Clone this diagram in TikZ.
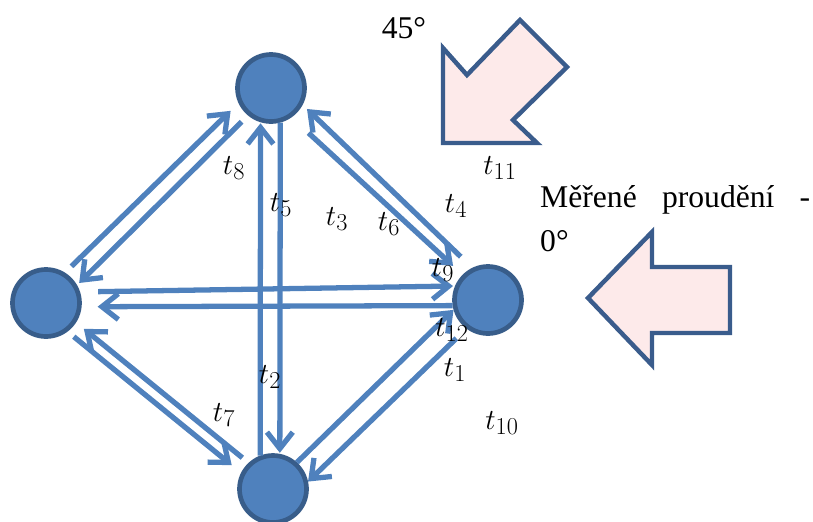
\documentclass[tikz,border=0pt]{standalone}
\usepackage{fontspec}
\setmainfont{Liberation Serif}
\usetikzlibrary{arrows.meta}
\newlength{\px}
\setlength{\px}{0.03cm}
\definecolor{nodeblue}{RGB}{79, 129, 189}
\definecolor{nodeedge}{RGB}{56, 93, 138}
\definecolor{flowfill}{RGB}{253, 234, 234}
\definecolor{flowedge}{RGB}{58, 92, 140}

\begin{document}
\begin{tikzpicture}[x=0.03cm, y=-0.03cm,
    station/.style={circle, draw=nodeedge, fill=nodeblue, line width=4pt,
                    minimum size=2.01cm, inner sep=0pt},
    link/.style={draw=nodeblue, line width=4.5pt,
                 -{Straight Barb[length=14pt, width=22pt]}},
    tlabel/.style={font=\fontsize{28}{30}\selectfont},
    bigarrow/.style={draw=flowedge, fill=flowfill, line width=3.8pt,
                     line join=miter}]
  \clip (0,0) rectangle (813,521);

  % stations
  \node[station] (top) at (271,88) {};
  \node[station] (left) at (46,303) {};
  \node[station] (right) at (488,300) {};
  \node[station] (bottom) at (273,489) {};

  % connections, pairs in both directions
  \draw[link, shorten <=9\px, shorten >=11\px] (left.58) -- (top.205);
  \draw[link, shorten <=9\px, shorten >=3\px] (top.230) -- (left.30);
  \draw[link, shorten >=1\px] (bottom.111) -- (top.253);
  \draw[link, shorten >=1\px] (top.285) -- (bottom.79);
  \draw[link, shorten <=16\px, shorten >=6\px] (right.116) -- (top.332);
  \draw[link, shorten <=23\px, shorten >=13\px] (top.305) -- (right.135);
  \draw[link, shorten <=18\px, shorten >=2\px] (left.18) -- (right.157);
  \draw[link, shorten >=16\px] (right.189) -- (left.354);
  \draw[link, shorten <=8\px, shorten >=10\px] (bottom.133) -- (left.327);
  \draw[link, shorten <=8\px, shorten >=12\px] (left.307) -- (bottom.153);
  \draw[link] (bottom.48) -- (right.196);
  \draw[link, shorten <=14\px] (right.233) -- (bottom.12);

  % labels
  \node[tlabel] (t1) at (455,370) {$t_{1}$};
  \node[tlabel] (t2) at (270,377) {$t_{2}$};
  \node[tlabel] (t3) at (337,219) {$t_{3}$};
  \node[tlabel] (t4) at (456,206) {$t_{4}$};
  \node[tlabel] (t5) at (281,205) {$t_{5}$};
  \node[tlabel] (t6) at (389,224) {$t_{6}$};
  \node[tlabel] (t7) at (224,415) {$t_{7}$};
  \node[tlabel] (t8) at (234,168) {$t_{8}$};
  \node[tlabel] (t9) at (443,270) {$t_{9}$};
  \node[tlabel] (t10) at (502,423) {$t_{10}$};
  \node[tlabel] (t11) at (500,168) {$t_{11}$};
  \node[tlabel] (t12) at (452,330) {$t_{12}$};

  % flow directions
  \draw[bigarrow] (443,143) -- (443,48) -- (467,75) -- (520,20)
    -- (567,67) -- (513,120) -- (537,143) -- cycle;
  \draw[bigarrow] (588,298) -- (652,232) -- (652,267) -- (730,267)
    -- (730,333) -- (652,333) -- (652,365) -- cycle;
  \node[font=\fontsize{27}{29}\selectfont] (deg45) at (404,28) {45°};
  \node[font=\fontsize{27}{38}\selectfont, text width=8.1cm,
        align=left, inner sep=0pt, anchor=base west]
    (measured) at (540,207) {Měřené\hfill proudění\hfill -\\0°};
\end{tikzpicture}
\end{document}
